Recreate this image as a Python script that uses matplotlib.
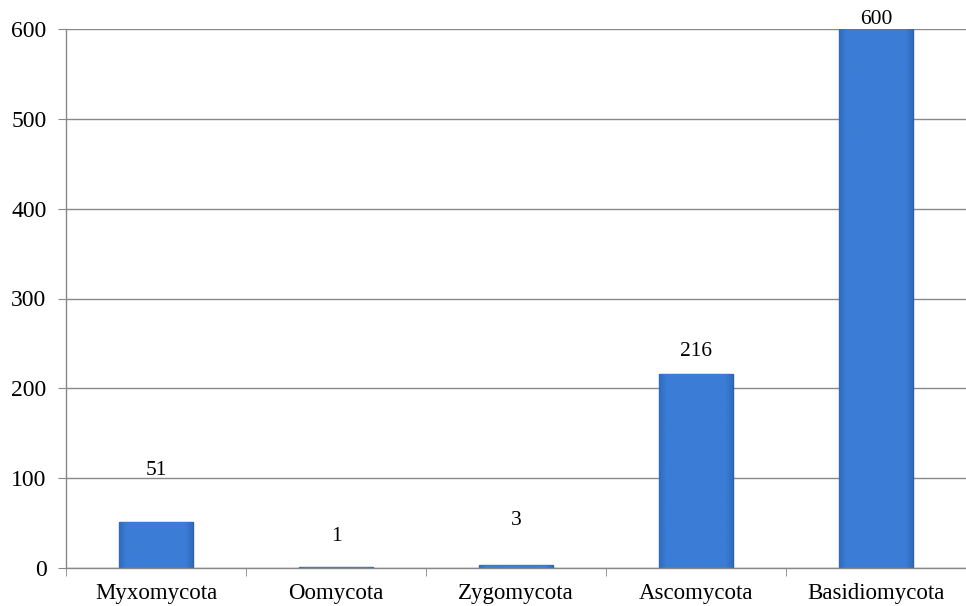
import matplotlib
matplotlib.use("Agg")
import matplotlib.pyplot as plt
import numpy as np

categories = ["Myxomycota", "Oomycota", "Zygomycota", "Ascomycota", "Basidiomycota"]
values = [51, 1, 3, 216, 600]
yticks = [0, 100, 200, 300, 400, 500, 600]
label_offsets_px = [52, 31, 45, 22, 9]

plt.rcParams['font.family'] = ['Liberation Serif', 'DejaVu Serif']

fig = plt.figure(figsize=(9.66, 6.06), dpi=100)
ax = fig.add_axes([66/966, 1-568/606, 1-66/966, (568-29)/606])

x = np.arange(len(categories))
bars = ax.bar(x, values, width=0.41, color="#3a7bd5", edgecolor="#2b5fa8", linewidth=1.0, zorder=3)

# mild bevel: flat centre, darker edges
g = np.linspace(0, 1, 100)
prof = np.clip(1 - np.maximum(0, np.abs(g - 0.5) * 2 - 0.8) * 2.5, 0, 1)
cmap = matplotlib.colors.LinearSegmentedColormap.from_list("b", ["#2459a8", "#3b7dd6"])
for b in bars:
    bx, by = b.get_x(), b.get_y()
    w, h = b.get_width(), b.get_height()
    im = ax.imshow(prof[np.newaxis, :], extent=[bx, bx + w, by, by + h], aspect="auto",
                   cmap=cmap, vmin=0.0, vmax=1.0, zorder=3.5)
    im.set_clip_path(b)

for xi, v, off in zip(x, values, label_offsets_px):
    ax.annotate(str(v), (xi, v), xytext=(0, off * 0.72), textcoords="offset points",
                ha="center", va="center", fontsize=15.5, color="black", zorder=5)

ax.set_xlim(-0.5, len(categories) - 0.5)
ax.set_ylim(0, 600)
ax.set_yticks(yticks)
ax.set_xticks(x)
ax.set_xticklabels(categories, fontsize=16.5)
ax.tick_params(axis="x", length=0, pad=11)
ax.set_xticks(np.arange(-0.5, len(categories)), minor=True)
ax.tick_params(axis="x", which="minor", length=6, color="#888888", direction="out")
ax.tick_params(axis="y", labelsize=17, length=6, color="#888888", direction="out", pad=8)
ax.yaxis.grid(True, color="#888888", linewidth=1.0, zorder=0)
ax.set_axisbelow(True)
for s in ["top", "right"]:
    ax.spines[s].set_visible(False)
for s in ["left", "bottom"]:
    ax.spines[s].set_color("#888888")
    ax.spines[s].set_linewidth(1.0)
ax.spines["bottom"].set_zorder(4)

fig.savefig("out.png", dpi=100)
